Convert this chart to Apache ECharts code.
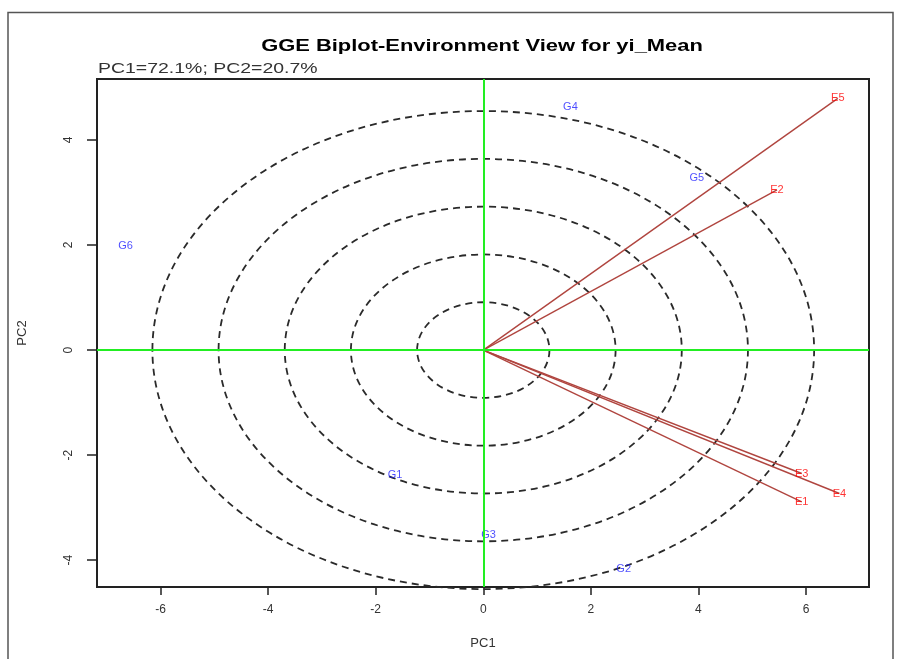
<!DOCTYPE html>
<html>
<head>
<meta charset="utf-8">
<script src="https://cdn.jsdelivr.net/npm/echarts@6/dist/echarts.min.js"></script>
<style>
  html, body { margin: 0; padding: 0; background: #ffffff; }
  #chart { width: 904px; height: 659px; }
</style>
</head>
<body>
<div id="chart"></div>
<script>
// Environment vectors (PC1, PC2 scores)
const envNames = ['E1', 'E2', 'E3', 'E4', 'E5'];
const envPC1 = [5.92, 5.46, 5.92, 6.62, 6.59];
const envPC2 = [-2.89, 3.05, -2.35, -2.73, 4.79];

// Genotype scores
const genNames = ['G1', 'G2', 'G3', 'G4', 'G5', 'G6'];
const genPC1 = [-1.64, 2.61, 0.10, 1.62, 3.97, -6.65];
const genPC2 = [-2.38, -4.16, -3.52, 4.63, 3.27, 1.99];

// Concentric rings around the origin (half-widths along PC1 and PC2)
const ringRadiusPC1 = [1.23, 2.46, 3.69, 4.92, 6.15];
const ringRadiusPC2 = [0.91, 1.82, 2.73, 3.64, 4.55];

// Axis ticks
const xTicks = [-6, -4, -2, 0, 2, 4, 6];
const yTicks = [-4, -2, 0, 2, 4];

const titleText = 'GGE Biplot-Environment View for yi_Mean';
const varianceText = 'PC1=72.1%; PC2=20.7%';

const chart = echarts.init(document.getElementById('chart'), null, { renderer: 'canvas' });

const axisFont = 'Liberation Sans, Arial, sans-serif';

const option = {
  backgroundColor: '#ffffff',
  animation: false,
  graphic: [
    {
      type: 'rect',
      shape: { x: 8, y: 12.5, width: 885, height: 700 },
      style: { fill: 'none', stroke: '#555555', lineWidth: 1.5 },
      silent: true
    },
    {
      type: 'text',
      x: 482, y: 47,
      scaleX: 1.37,
      style: {
        text: titleText,
        font: 'bold 16px Liberation Sans, Arial, sans-serif',
        fill: '#000000',
        textAlign: 'center',
        textVerticalAlign: 'middle'
      }
    },
    {
      type: 'text',
      x: 98, y: 69,
      scaleX: 1.39,
      style: {
        text: varianceText,
        font: '14px Liberation Sans, Arial, sans-serif',
        fill: '#333333',
        textAlign: 'left',
        textVerticalAlign: 'middle'
      }
    }
  ],
  grid: {
    left: 97, right: 35, top: 79, bottom: 72,
    show: true,
    borderColor: '#222222',
    borderWidth: 2,
    backgroundColor: 'transparent'
  },
  xAxis: {
    type: 'value',
    min: -7.18, max: 7.17,
    splitLine: { show: false },
    axisLine: { show: false, onZero: false },
    axisTick: {
      show: true, inside: false, length: 8,
      customValues: xTicks,
      lineStyle: { color: '#222222', width: 1.5 }
    },
    axisLabel: {
      customValues: xTicks,
      margin: 17,
      fontSize: 12,
      fontFamily: axisFont,
      color: '#333333'
    },
    name: 'PC1',
    nameLocation: 'middle',
    nameGap: 50,
    nameTextStyle: { fontSize: 13, fontFamily: axisFont, color: '#333333' }
  },
  yAxis: {
    type: 'value',
    min: -4.51, max: 5.16,
    splitLine: { show: false },
    axisLine: { show: false, onZero: false },
    axisTick: {
      show: true, inside: false, length: 10,
      customValues: yTicks,
      lineStyle: { color: '#222222', width: 1.5 }
    },
    axisLabel: {
      customValues: yTicks,
      rotate: 90,
      margin: 22,
      fontSize: 12,
      fontFamily: axisFont,
      color: '#333333'
    },
    name: 'PC2',
    nameLocation: 'middle',
    nameRotate: 90,
    nameGap: 68,
    nameTextStyle: { fontSize: 13, fontFamily: axisFont, color: '#333333' }
  },
  series: [
    {
      // dashed concentric rings
      type: 'custom',
      silent: true,
      z: 1,
      data: ringRadiusPC1.map((r, i) => [r, ringRadiusPC2[i]]),
      encode: { x: 0, y: 1 },
      renderItem: function (params, api) {
        const c = api.coord([0, 0]);
        const s = api.size([api.value(0), api.value(1)]);
        return {
          type: 'ellipse',
          shape: { cx: c[0], cy: c[1], rx: s[0], ry: s[1] },
          style: { fill: 'none', stroke: '#2a2a2a', lineWidth: 1.8, lineDash: [7, 5] }
        };
      }
    },
    {
      // origin cross-hairs
      type: 'scatter',
      silent: true,
      z: 2,
      data: [],
      markLine: {
        silent: true,
        symbol: 'none',
        animation: false,
        label: { show: false },
        lineStyle: { color: '#22ee22', width: 2, type: 'solid' },
        data: [{ xAxis: 0 }, { yAxis: 0 }]
      }
    },
    {
      // environment vectors from the origin
      type: 'lines',
      coordinateSystem: 'cartesian2d',
      silent: true,
      z: 3,
      symbol: 'none',
      lineStyle: { color: '#b0453f', width: 1.4, opacity: 1 },
      data: envNames.map((n, i) => ({ name: n, coords: [[0, 0], [envPC1[i], envPC2[i]]] }))
    },
    {
      type: 'scatter',
      silent: true,
      z: 4,
      symbolSize: 1,
      itemStyle: { color: 'rgba(0,0,0,0)' },
      data: envNames.map((n, i) => [envPC1[i], envPC2[i], n]),
      label: {
        show: true,
        position: 'inside',
        formatter: p => p.data[2],
        color: '#ff0000',
        fontSize: 11,
        fontFamily: axisFont
      }
    },
    {
      type: 'scatter',
      silent: true,
      z: 4,
      symbolSize: 1,
      itemStyle: { color: 'rgba(0,0,0,0)' },
      data: genNames.map((n, i) => [genPC1[i], genPC2[i], n]),
      label: {
        show: true,
        position: 'inside',
        formatter: p => p.data[2],
        color: '#1f1fff',
        fontSize: 11,
        fontFamily: axisFont
      }
    }
  ]
};

chart.setOption(option);
</script>
</body>
</html>
